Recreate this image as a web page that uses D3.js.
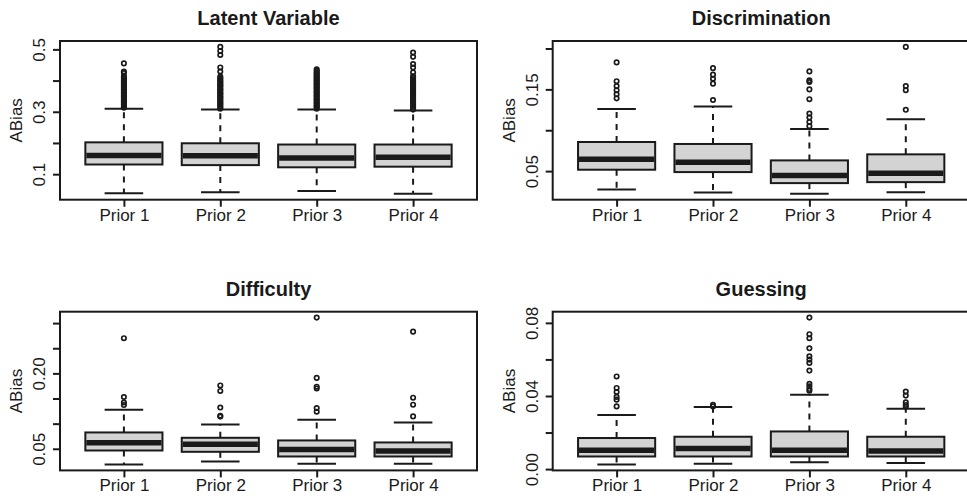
<!DOCTYPE html>
<html>
<head>
<meta charset="utf-8">
<script src="https://cdn.jsdelivr.net/npm/d3@7"></script>
<style>
  html, body { margin: 0; padding: 0; background: #fff; }
  svg { display: block; font-family: "Liberation Sans", Arial, Helvetica, sans-serif; }
</style>
</head>
<body>
<svg id="chart" width="967" height="498"></svg>
<script>
// ---------- data ----------
const categories = ["Prior 1", "Prior 2", "Prior 3", "Prior 4"];
const panelTitles = ["Latent Variable", "Discrimination", "Difficulty", "Guessing"];
const yLabel = "ABias";

// stats per prior: [lower whisker, Q1, median, Q3, upper whisker]
const latentStats = [
  [0.039, 0.131, 0.160, 0.202, 0.310],
  [0.042, 0.129, 0.159, 0.199, 0.307],
  [0.046, 0.122, 0.152, 0.195, 0.307],
  [0.037, 0.124, 0.154, 0.195, 0.304]
];
const latentOutliers = [
  [0.313, 0.316, 0.321, 0.324, 0.329, 0.333, 0.336, 0.341, 0.345, 0.349, 0.352, 0.357, 0.361, 0.364, 0.369, 0.372, 0.377, 0.381, 0.385, 0.388, 0.393, 0.397, 0.401, 0.405, 0.409, 0.414, 0.424, 0.429, 0.455],
  [0.310, 0.314, 0.318, 0.323, 0.326, 0.331, 0.334, 0.339, 0.343, 0.347, 0.350, 0.355, 0.359, 0.362, 0.367, 0.371, 0.374, 0.379, 0.383, 0.387, 0.391, 0.396, 0.399, 0.404, 0.408, 0.413, 0.429, 0.442, 0.482, 0.495, 0.508],
  [0.310, 0.315, 0.318, 0.322, 0.327, 0.330, 0.335, 0.339, 0.342, 0.347, 0.351, 0.354, 0.359, 0.363, 0.366, 0.371, 0.375, 0.378, 0.383, 0.387, 0.390, 0.395, 0.399, 0.402, 0.407, 0.411, 0.414, 0.419, 0.423, 0.427, 0.432, 0.436],
  [0.307, 0.311, 0.316, 0.319, 0.324, 0.328, 0.331, 0.336, 0.340, 0.343, 0.348, 0.352, 0.355, 0.360, 0.364, 0.367, 0.372, 0.376, 0.379, 0.384, 0.388, 0.391, 0.396, 0.400, 0.404, 0.409, 0.414, 0.426, 0.442, 0.453, 0.476, 0.490]
];

const discStats = [
  [0.0275, 0.0517, 0.0644, 0.0856, 0.126],
  [0.0238, 0.0488, 0.0607, 0.0832, 0.129],
  [0.0222, 0.0353, 0.0447, 0.0631, 0.1016],
  [0.0242, 0.0365, 0.0475, 0.0705, 0.1135]
];
const discOutliers = [
  [0.183, 0.160, 0.154, 0.149, 0.144, 0.139],
  [0.176, 0.168, 0.163, 0.157, 0.137],
  [0.172, 0.161, 0.159, 0.150, 0.138, 0.1205, 0.1156, 0.110, 0.105],
  [0.202, 0.154, 0.149, 0.125]
];

const diffStats = [
  [0.0187, 0.0466, 0.0620, 0.0825, 0.1277],
  [0.0247, 0.0440, 0.0590, 0.0719, 0.0984],
  [0.0200, 0.0347, 0.0486, 0.0666, 0.1078],
  [0.0200, 0.0347, 0.0456, 0.0626, 0.1024]
];
const diffOutliers = [
  [0.270, 0.153, 0.142, 0.137],
  [0.176, 0.165, 0.132, 0.1157, 0.114],
  [0.311, 0.191, 0.1735, 0.170, 0.131, 0.1237],
  [0.283, 0.1516, 0.1377, 0.1144]
];

const guessStats = [
  [0.0025, 0.0069, 0.0103, 0.0170, 0.0296],
  [0.0029, 0.0069, 0.0112, 0.0177, 0.0340],
  [0.0038, 0.0069, 0.0103, 0.0206, 0.0407],
  [0.0033, 0.0069, 0.0099, 0.0177, 0.0330]
];
const guessOutliers = [
  [0.0507, 0.0444, 0.0422, 0.0395, 0.0380, 0.0343],
  [0.0352, 0.0343],
  [0.0829, 0.0738, 0.0716, 0.0661, 0.0617, 0.0599, 0.0581, 0.0539, 0.0467, 0.0453, 0.0438, 0.0429],
  [0.0424, 0.0402, 0.0365, 0.0351, 0.0341]
];

// y-axis ticks and which ones carry labels
const latentTicks = [0.1, 0.2, 0.3, 0.4, 0.5];
const latentTickLabels = ["0.1", "", "0.3", "", "0.5"];
const discTicks = [0.05, 0.10, 0.15, 0.20];
const discTickLabels = ["0.05", "", "0.15", ""];
const diffTicks = [0.05, 0.10, 0.15, 0.20, 0.25, 0.30];
const diffTickLabels = ["0.05", "", "", "0.20", "", ""];
const guessTicks = [0.00, 0.02, 0.04, 0.06, 0.08];
const guessTickLabels = ["0.00", "", "0.04", "", "0.08"];

// ---------- layout ----------
const panels = [
  { title: panelTitles[0], stats: latentStats, outliers: latentOutliers, ticks: latentTicks, tickLabels: latentTickLabels, x0: 60,    y0: 41 },
  { title: panelTitles[1], stats: discStats,   outliers: discOutliers,   ticks: discTicks,   tickLabels: discTickLabels,   x0: 552.7, y0: 41 },
  { title: panelTitles[2], stats: diffStats,   outliers: diffOutliers,   ticks: diffTicks,   tickLabels: diffTickLabels,   x0: 60,    y0: 311.7 },
  { title: panelTitles[3], stats: guessStats,  outliers: guessOutliers,  ticks: guessTicks,  tickLabels: guessTickLabels,  x0: 552.7, y0: 311.7 }
];
const PW = 417, PH = 158.7;
const INK = "#1a1a1a";
const FILL = "#d3d3d3";

const svg = d3.select("#chart");
svg.append("rect").attr("width", 967).attr("height", 498).attr("fill", "#fff");

panels.forEach(p => {
  const g = svg.append("g").attr("transform", `translate(${p.x0},${p.y0})`);

  // R-style y range: data range extended by 4%
  const allVals = p.stats.flat().concat(p.outliers.flat());
  const lo = d3.min(allVals), hi = d3.max(allVals);
  const ext = (hi - lo) * 0.04;
  const y = d3.scaleLinear().domain([lo - ext, hi + ext]).range([PH, 0]);
  const x = d3.scalePoint().domain(categories).range([0, PW]).padding(0.663);
  const step = x.step();
  const boxW = step * 0.8;
  const capW = boxW * 0.5;

  // boxes
  categories.forEach((c, i) => {
    const [wl, q1, med, q3, wh] = p.stats[i];
    const cx = x(c);
    const bg = g.append("g");
    // whiskers (dashed)
    bg.append("line").attr("x1", cx).attr("x2", cx).attr("y1", y(q3)).attr("y2", y(wh))
      .attr("stroke", INK).attr("stroke-width", 2).attr("stroke-dasharray", "6,6");
    bg.append("line").attr("x1", cx).attr("x2", cx).attr("y1", y(q1)).attr("y2", y(wl))
      .attr("stroke", INK).attr("stroke-width", 2).attr("stroke-dasharray", "6,6");
    // caps
    [wl, wh].forEach(v => {
      bg.append("line").attr("x1", cx - capW / 2).attr("x2", cx + capW / 2)
        .attr("y1", y(v)).attr("y2", y(v)).attr("stroke", INK).attr("stroke-width", 2);
    });
    // box
    bg.append("rect").attr("x", cx - boxW / 2).attr("y", y(q3))
      .attr("width", boxW).attr("height", y(q1) - y(q3))
      .attr("fill", FILL).attr("stroke", INK).attr("stroke-width", 2);
    // median
    bg.append("line").attr("x1", cx - boxW / 2 + 1).attr("x2", cx + boxW / 2 - 1)
      .attr("y1", y(med)).attr("y2", y(med)).attr("stroke", INK).attr("stroke-width", 5.5);
    // outliers
    bg.selectAll("circle.o").data(p.outliers[i]).enter().append("circle")
      .attr("class", "o").attr("cx", cx).attr("cy", d => y(d)).attr("r", 2.2)
      .attr("fill", "none").attr("stroke", INK).attr("stroke-width", 1.7);
  });

  // frame
  g.append("rect").attr("x", 0).attr("y", 0).attr("width", PW).attr("height", PH)
    .attr("fill", "none").attr("stroke", INK).attr("stroke-width", 2);

  // y axis
  const yAxis = d3.axisLeft(y).tickValues(p.ticks).tickSize(7).tickPadding(8)
    .tickFormat((d, i) => p.tickLabels[i]);
  const ya = g.append("g").call(yAxis);
  ya.select(".domain").remove();
  ya.selectAll(".tick line").attr("stroke", INK).attr("stroke-width", 2);
  ya.selectAll(".tick text")
    .attr("x", null).attr("dy", null)
    .attr("transform", "translate(-15,0) rotate(-90)")
    .attr("text-anchor", "middle")
    .attr("fill", INK).attr("font-size", 17)
    .attr("font-family", "Liberation Sans, Arial, sans-serif");

  // x axis
  const xAxis = d3.axisBottom(x).tickSize(7).tickPadding(6);
  const xa = g.append("g").attr("transform", `translate(0,${PH})`).call(xAxis);
  xa.select(".domain").remove();
  xa.selectAll(".tick line").attr("stroke", INK).attr("stroke-width", 2);
  xa.selectAll(".tick text").attr("y", 21).attr("dy", null)
    .attr("fill", INK).attr("font-size", 17)
    .attr("font-family", "Liberation Sans, Arial, sans-serif");

  // y label
  g.append("text").attr("transform", `translate(-38,${PH / 2}) rotate(-90)`)
    .attr("text-anchor", "middle").attr("font-size", 17).attr("fill", INK)
    .text(yLabel);

  // title
  g.append("text").attr("x", PW / 2).attr("y", -16).attr("text-anchor", "middle")
    .attr("font-size", 20).attr("font-weight", "bold").attr("fill", INK)
    .text(p.title);
});
</script>
</body>
</html>
